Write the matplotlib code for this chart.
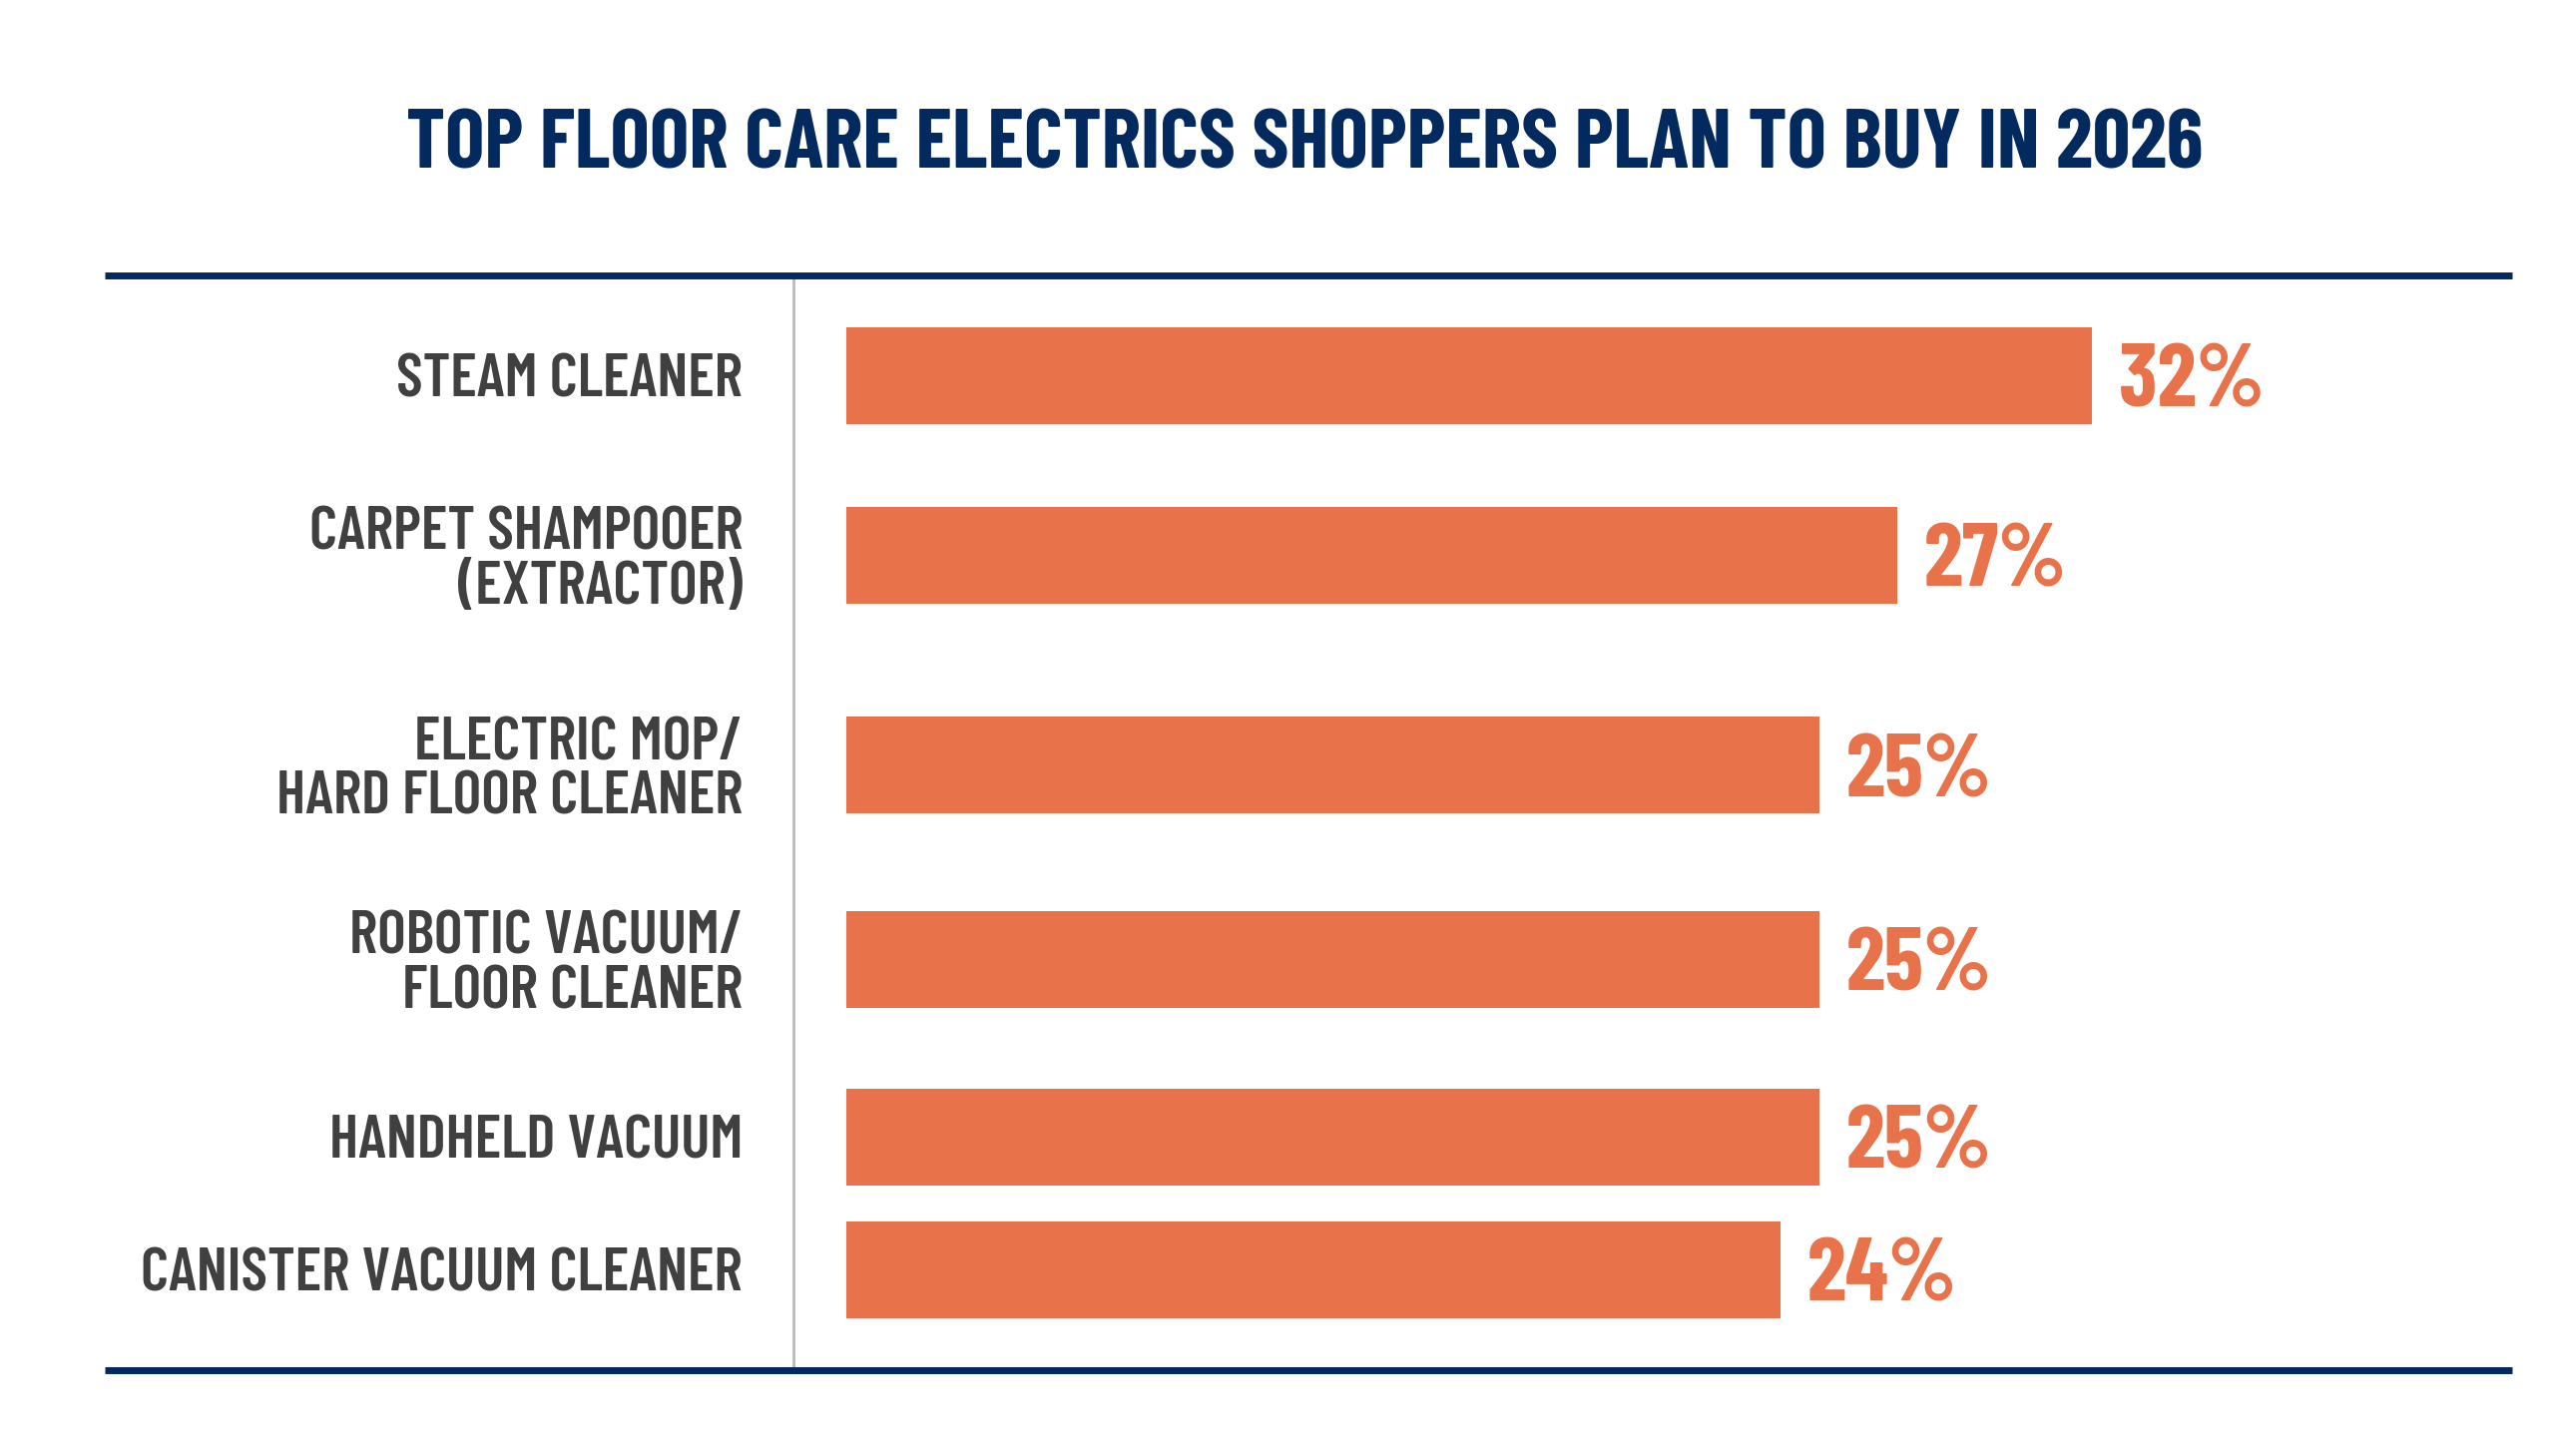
import matplotlib
matplotlib.use("Agg")
import matplotlib.pyplot as plt

# ---- data ----
categories = [
    "STEAM CLEANER",
    "CARPET SHAMPOOER\n(EXTRACTOR)",
    "ELECTRIC MOP/\nHARD FLOOR CLEANER",
    "ROBOTIC VACUUM/\nFLOOR CLEANER",
    "HANDHELD VACUUM",
    "CANISTER VACUUM CLEANER",
]
values = [32, 27, 25, 25, 25, 24]
value_labels = ["32%", "27%", "25%", "25%", "25%", "24%"]
title = "TOP FLOOR CARE ELECTRICS SHOPPERS PLAN TO BUY IN 2026"

# ---- layout (row slots, not data) ----
row_pos = [0, 1.0, 2.17, 3.25, 4.24, 4.98]

NAVY = "#032a5e"
ORANGE = "#e8734a"
GREY_TXT = "#404040"
GREY_LINE = "#b9b9b9"
FONT = ["Barlow Condensed", "DejaVu Sans"]

W, H = 2560, 1459
fig = plt.figure(figsize=(W / 100, H / 100), dpi=100)
fig.patch.set_facecolor("white")

ax_l, ax_r = 105, 2517
ax_top, ax_bot = 275.5, 1373
ax = fig.add_axes([ax_l / W, (H - ax_bot) / H, (ax_r - ax_l) / W, (ax_bot - ax_top) / H])

px_per_unit = 39.0
zero_px = 848
ax.set_xlim((ax_l - zero_px) / px_per_unit, (ax_r - zero_px) / px_per_unit)
pitch = 180.0
first_c = 376.0
ax.set_ylim((ax_bot - first_c) / pitch, (ax_top - first_c) / pitch)

ax.barh(row_pos, values, height=97 / pitch, color=ORANGE, edgecolor="none")

for y, v, lab in zip(row_pos, values, value_labels):
    ax.annotate(lab, xy=(v, y), xytext=(19.4, 0), textcoords="offset points",
                ha="left", va="center_baseline", fontsize=64, fontweight=700,
                color=ORANGE, family=FONT)

# spines
for s in ("top", "bottom"):
    ax.spines[s].set_color(NAVY)
    ax.spines[s].set_linewidth(5.0)
    ax.spines[s].set_capstyle("butt")
ax.spines["right"].set_visible(False)
ax.spines["left"].set_position(("data", (795 - zero_px) / px_per_unit))
ax.spines["left"].set_color(GREY_LINE)
ax.spines["left"].set_linewidth(2.0)

ax.set_xticks([])
ax.set_yticks(row_pos)
ax.set_yticklabels(categories, fontsize=44, color=GREY_TXT, family=FONT,
                   fontweight=600, linespacing=1.02, ha="right", va="center_baseline")
ax.tick_params(axis="y", length=0, pad=36.7)
ax.set_facecolor("none")

fig.text(1307 / W, 1 - 139 / H, title, ha="center", va="center_baseline",
         fontsize=60, fontweight=700, color=NAVY, family=FONT)

fig.savefig("out.png", dpi=100, facecolor="white")
